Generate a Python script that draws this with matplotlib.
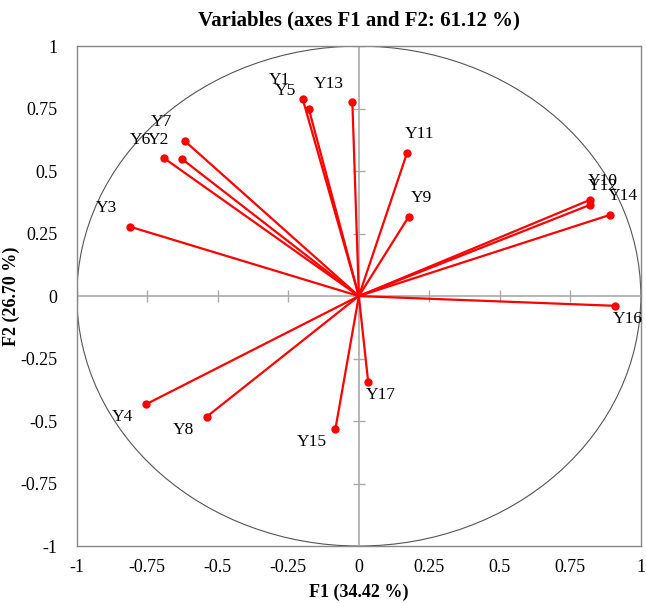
import matplotlib
matplotlib.use('Agg')
import matplotlib.pyplot as plt
from matplotlib.patches import Ellipse

plt.rcParams['font.family'] = ['Liberation Serif', 'DejaVu Serif']
plt.rcParams['axes.unicode_minus'] = False

# PCA loadings
names = ['Y1', 'Y2', 'Y3', 'Y4', 'Y5', 'Y6', 'Y7', 'Y8', 'Y9', 'Y10',
         'Y11', 'Y12', 'Y13', 'Y14', 'Y15', 'Y16', 'Y17']
f1 = [-0.199, -0.628, -0.810, -0.755, -0.177, -0.690, -0.618, -0.540, 0.177, 0.820,
      0.171, 0.820, -0.023, 0.891, -0.083, 0.909, 0.033]
f2 = [0.788, 0.549, 0.277, -0.433, 0.747, 0.551, 0.621, -0.483, 0.318, 0.385,
      0.573, 0.365, 0.775, 0.325, -0.531, -0.039, -0.343]

ticks = [-1, -0.75, -0.5, -0.25, 0, 0.25, 0.5, 0.75, 1]
tick_labels = ['-1', '-0.75', '-0.5', '-0.25', '0', '0.25', '0.5', '0.75', '1']

fig = plt.figure(figsize=(6.46, 6.03), dpi=100)
ax = fig.add_axes([0.119, 0.0945, 0.873, 0.829])

ax.set_xlim(-1, 1)
ax.set_ylim(-1, 1)

# correlation circle (stretched with the axes)
ax.add_patch(Ellipse((0, 0), 2, 2, fill=False, color='#555555', lw=0.8))

# centre axes with crossing ticks
grey = '#aaaaaa'
ax.axhline(0, color=grey, lw=1.2, zorder=1)
ax.axvline(0, color=grey, lw=1.2, zorder=1)
ax.plot(ticks, [0] * len(ticks), ls='none', marker='|', ms=9, mew=1, color=grey, zorder=1)
ax.plot([0] * len(ticks), ticks, ls='none', marker='_', ms=9, mew=1, color=grey, zorder=1)

for n, x, y in zip(names, f1, f2):
    ax.plot([0, x], [0, y], color='#ff0000', lw=1.6, zorder=3)
    ax.plot(x, y, 'o', color='#ff0000', ms=5, zorder=4)
    dx = -17 if x < 0 else 9
    dy = 13.5 if y > 0 else -9.5
    ax.annotate(n, (x, y), xytext=(dx, dy), textcoords='offset points',
                ha='center', va='center', fontsize=12.5, color='black')

ax.set_xticks(ticks)
ax.set_xticklabels(tick_labels)
ax.set_yticks(ticks)
ax.set_yticklabels(tick_labels)
ax.tick_params(length=0, labelsize=13)
ax.tick_params(axis='x', pad=9)
ax.tick_params(axis='y', pad=14)

for s in ax.spines.values():
    s.set_color('#888888')
    s.set_linewidth(1)

ax.set_xlabel('F1 (34.42 %)', fontsize=13, fontweight='bold', labelpad=6)
ax.set_ylabel('F2 (26.70 %)', fontsize=13, fontweight='bold')
ax.yaxis.set_label_coords(-0.101, 0.5)
ax.set_title('Variables (axes F1 and F2: 61.12 %)', fontsize=15, fontweight='bold', pad=15)

fig.savefig('out.png', dpi=100)
